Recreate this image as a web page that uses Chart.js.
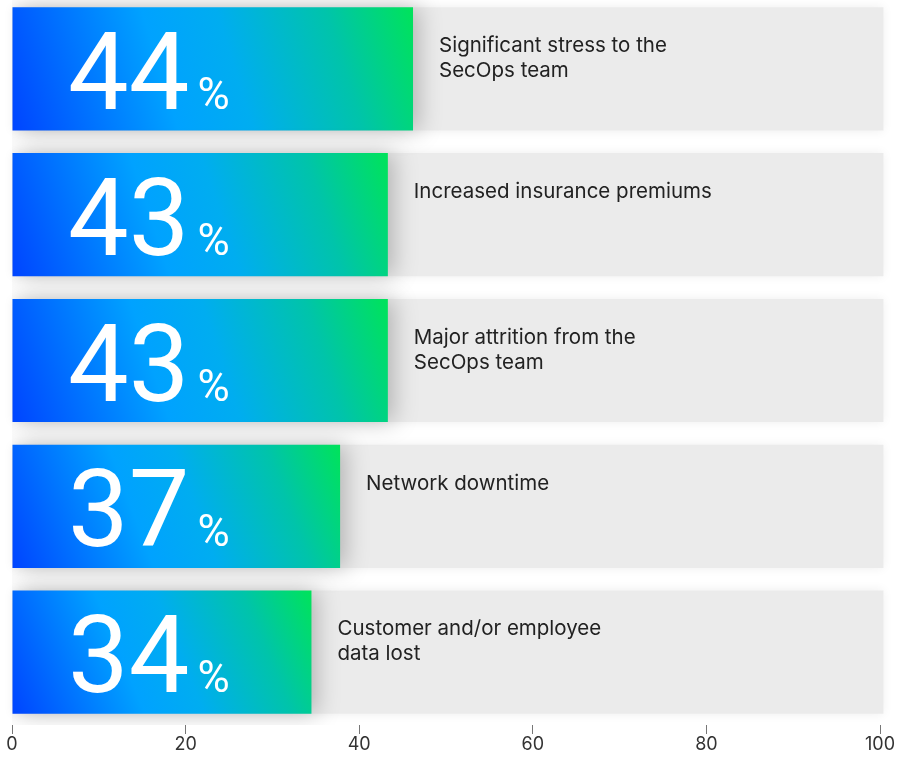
<!DOCTYPE html>
<html>
<head>
<meta charset="utf-8">
<script src="https://cdn.jsdelivr.net/npm/chart.js@4.4.1/dist/chart.umd.min.js"></script>
<style>
  body { margin: 0; background: #fff; overflow: hidden; }
  canvas { display: block; margin-top: -4px; }
</style>
</head>
<body>
<canvas id="impactChart" width="900" height="764"></canvas>
<script>
// values
const categories = [
  ['Significant stress to the', 'SecOps team'],
  ['Increased insurance premiums'],
  ['Major attrition from the', 'SecOps team'],
  ['Network downtime'],
  ['Customer and/or employee', 'data lost']
];
const percentLabels = [44, 43, 43, 37, 34];
const barLengths = [46.2, 43.3, 43.3, 37.8, 34.5];
const trackValues = [100.4, 100.4, 100.4, 100.4, 100.4];
const xTicks = [0, 20, 40, 60, 80, 100];

const BAR_PCT = 0.845;
const FONT = 'Inter, "Noto Sans", sans-serif';
const NUM_FONT = 'Roboto, "Noto Sans", sans-serif';

// diagonal blue -> green gradient, one per bar
function barGradient(c) {
  const chart = c.chart;
  const xs = chart.scales.x, ys = chart.scales.y;
  if (!xs || !ys || c.type !== 'data') return '#00a6ff';
  const x0 = xs.getPixelForValue(0);
  const x1 = xs.getPixelForValue(barLengths[c.dataIndex]);
  const yc = ys.getPixelForValue(c.dataIndex);
  const half = (ys.getPixelForValue(1) - ys.getPixelForValue(0)) * BAR_PCT / 2;
  if (![x0, x1, yc, half].every(Number.isFinite)) return '#00a6ff';
  const g = chart.ctx.createLinearGradient(x0, yc + half, x1, yc - half);
  g.addColorStop(0, '#0044ff');
  g.addColorStop(0.38, '#00a2ff');
  g.addColorStop(0.55, '#00adf0');
  g.addColorStop(0.8, '#00c4aa');
  g.addColorStop(1, '#00e35a');
  return g;
}

// soft shadows under bars
const shadowPlugin = {
  id: 'barShadow',
  beforeDatasetDraw(chart, args) {
    const ctx = chart.ctx;
    ctx.save();
    if (args.index === 0) {
      ctx.shadowColor = 'rgba(0,0,0,0.24)';
      ctx.shadowBlur = 22;
      ctx.shadowOffsetX = 6;
    } else {
      ctx.shadowColor = 'rgba(0,0,0,0.07)';
      ctx.shadowBlur = 10;
    }
  },
  afterDatasetDraw(chart) {
    chart.ctx.restore();
  }
};

// big percentages and the category text
const labelPlugin = {
  id: 'barLabels',
  afterDatasetsDraw(chart) {
    const ctx = chart.ctx;
    const xs = chart.scales.x, ys = chart.scales.y;
    const half = (ys.getPixelForValue(1) - ys.getPixelForValue(0)) * BAR_PCT / 2;
    ctx.save();
    percentLabels.forEach((p, i) => {
      const yc = ys.getPixelForValue(i);
      const left = xs.getPixelForValue(0) + 56;
      ctx.fillStyle = '#fff';
      ctx.textAlign = 'left';
      ctx.textBaseline = 'alphabetic';
      ctx.font = '400 108px ' + NUM_FONT;
      const num = String(p);
      ctx.fillText(num, left, yc + 40);
      const w = ctx.measureText(num).width;
      ctx.font = '400 44px ' + NUM_FONT;
      ctx.fillText('%', left + w + 8, yc + 40);

      const tx = xs.getPixelForValue(barLengths[i]) + 26;
      ctx.fillStyle = '#222';
      ctx.font = '400 20.5px ' + FONT;
      categories[i].forEach((line, j) => {
        ctx.fillText(line, tx, yc - half + 45 + j * 25);
      });
    });
    ctx.restore();
  }
};

const ctx = document.getElementById('impactChart').getContext('2d');
new Chart(ctx, {
  type: 'bar',
  data: {
    labels: categories.map(c => c.join(' ')),
    datasets: [
      {
        data: barLengths,
        backgroundColor: barGradient,
        borderWidth: 0,
        grouped: false,
        order: 1,
        categoryPercentage: 1,
        barPercentage: BAR_PCT
      },
      {
        data: trackValues,
        backgroundColor: '#ebebeb',
        borderWidth: 0,
        grouped: false,
        order: 2,
        clip: false,
        categoryPercentage: 1,
        barPercentage: BAR_PCT
      }
    ]
  },
  options: {
    indexAxis: 'y',
    responsive: false,
    animation: false,
    layout: { padding: { left: 12, right: 20, top: 0, bottom: 4 } },
    plugins: { legend: { display: false }, tooltip: { enabled: false } },
    scales: {
      y: { display: false },
      x: {
        min: 0,
        max: 100,
        afterBuildTicks: axis => { axis.ticks = xTicks.map(v => ({ value: v })); },
        ticks: { color: '#333', font: { family: FONT, size: 18, lineHeight: 1 }, padding: 2, maxRotation: 0 },
        grid: { drawOnChartArea: false, drawTicks: true, tickLength: 9, tickColor: '#777', lineWidth: 1 },
        border: { display: false }
      }
    }
  },
  plugins: [shadowPlugin, labelPlugin]
});
</script>
</body>
</html>
